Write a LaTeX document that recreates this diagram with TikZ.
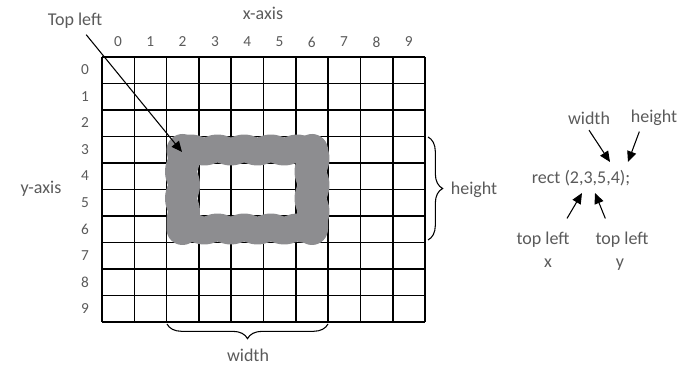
\documentclass[tikz,border=0pt]{standalone}
\usepackage{fontspec}
\setmainfont{Carlito}
\usepackage{xcolor}
\usetikzlibrary{arrows.meta}
\usetikzlibrary{decorations.pathmorphing}
\usetikzlibrary{decorations.pathreplacing}

\definecolor{ink}{HTML}{5A5A5A}
\definecolor{scribble}{HTML}{8D8D90}

\begin{document}
\begin{tikzpicture}[x=0.75pt, y=-0.75pt, line width=0.75pt,
			lbl/.style={text=ink, font=\fontsize{13.5}{15}\selectfont, inner sep=1pt},
			num/.style={text=ink, font=\fontsize{11.5}{13}\selectfont, inner sep=0pt},
			pointer/.style={-{Triangle[length=8pt, width=7pt]}, black, line width=0.8pt},
			brc/.style={decorate, decoration={brace, amplitude=11pt}, line width=0.8pt},
			ring/.style={scribble, line cap=round, line join=round, decorate,
							decoration={snake, segment length=20pt, amplitude=1.2pt}}]

		\useasboundingbox (0,0) rectangle (679,366);

		% grid
		\foreach \i in {0,...,10} {
			\draw[line width=1.2pt] (102+\i*32.3,57) -- (102+\i*32.3,322);
			\draw[line width=1.2pt] (102,57+\i*26.5) -- (425,57+\i*26.5);
		}
		\foreach \i in {0,...,9} {
			\node[num] (col\i) at (118+\i*32.3,42) {\i};
			\node[num] (row\i) at (85,70+\i*26.5) {\i};
		}
		\node[lbl] (xaxis) at (263,13) {x-axis};
		\node[lbl] (yaxis) at (41,189) {y-axis};

		% the rectangle
		\draw[ring, line width=24pt] (182.5,150) -- (182.5,229);
		\draw[ring, line width=24pt] (312,150) -- (312,229);
		\draw[ring, line width=21pt] (182.5,150) -- (312,150);
		\draw[ring, line width=21pt] (182.5,229) -- (312,229);

		\node[lbl] (tl) at (75,21) {Top left};
		\coordinate (corner) at (182,152);
		\draw[pointer, shorten <=4pt] (tl) -- (corner);

		% braces
		\draw[brc] (328,324) -- (167,324);
		\node[lbl] (wlbl) at (248,355) {width};
		\draw[brc] (428,137) -- (428,240);
		\node[lbl, anchor=west] (hlbl) at (449,190) {height};

		% the call
		\node[lbl] (code) at (581,178) {rect (2,3,5,4);};
		\node[lbl] (wtop) at (589,118) {width};
		\node[lbl] (htop) at (654,118) {height};
		\coordinate (wtip) at (610,162);
		\coordinate (htip) at (628,162);
		\draw[pointer] ([yshift=-3pt]wtop.south) -- (wtip);
		\draw[pointer] ([xshift=-11pt, yshift=-3pt]htop.south) -- (htip);

		\node[lbl] (tlx) at (543,240) {top left};
		\node[lbl] (tly) at (622,240) {top left};
		\node[lbl] (xl) at (548,263) {x};
		\node[lbl] (yl) at (620,265) {y};
		\coordinate (xtip) at (582,193);
		\coordinate (ytip) at (595,193);
		\draw[pointer] ([xshift=18pt, yshift=9pt]tlx.north) -- (xtip);
		\draw[pointer] ([xshift=-12.5pt, yshift=9pt]tly.north) -- (ytip);
	\end{tikzpicture}
\end{document}
